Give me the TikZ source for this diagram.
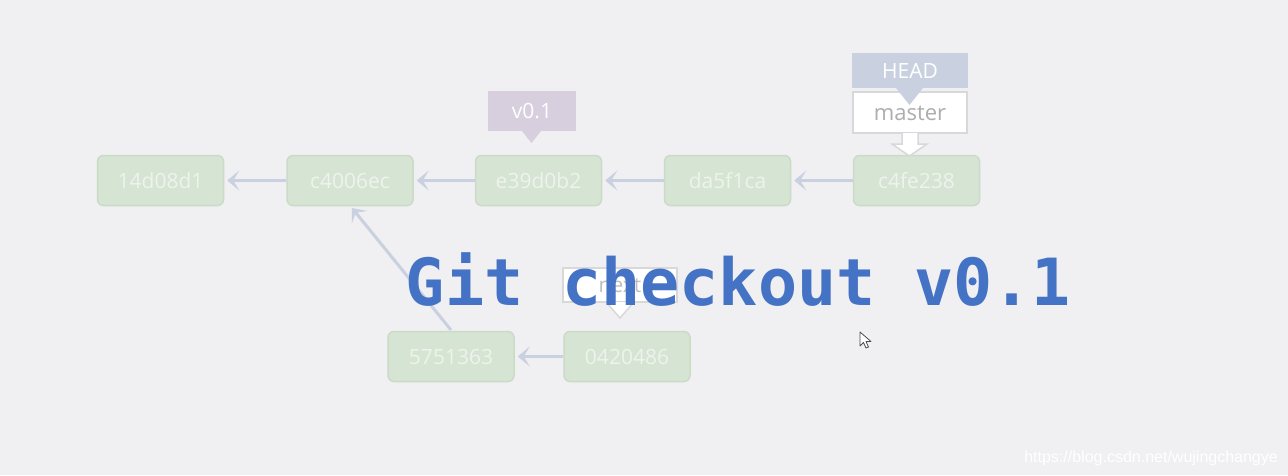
\documentclass[tikz,border=0pt]{standalone}
\usepackage{fontspec}
\setmainfont{Open Sans}
\newfontfamily\monob{DejaVu Sans Mono}
\newfontfamily\wmfont{Liberation Sans}
\usetikzlibrary{arrows.meta}
\definecolor{bgc}{HTML}{F0EFF2}
\definecolor{boxfill}{HTML}{D6E4D3}
\definecolor{boxdraw}{HTML}{CCDBC8}
\definecolor{boxtext}{HTML}{EEF3EE}
\definecolor{arrc}{HTML}{C9D0E0}
\definecolor{tagv}{HTML}{D8CFDE}
\definecolor{taghead}{HTML}{C9D1E0}
\definecolor{greyline}{HTML}{D8D8DA}
\definecolor{greytext}{HTML}{ADADAD}
\definecolor{bigblue}{HTML}{4472C4}
\tikzset{
  commit/.style={draw=boxdraw, line width=1.5pt, fill=boxfill, rounded corners=6pt,
    minimum width=126pt, minimum height=50pt, inner sep=0pt,
    text=boxtext, font=\fontsize{21}{25}\selectfont},
  link/.style={draw=arrc, line width=3pt, -{Stealth[length=12pt,width=20pt,inset=6pt]}, shorten >=3pt}
}
\begin{document}
\begin{tikzpicture}[x=1pt,y=-1pt]
\fill[bgc] (0,0) rectangle (1288,475);
\useasboundingbox (0,0) rectangle (1288,475);

% commits
\node[commit] (c1) at (160.5,180.5) {14d08d1};
\node[commit] (c2) at (350,180.5) {c4006ec};
\node[commit] (c3) at (538.5,180.5) {e39d0b2};
\node[commit] (c4) at (727.5,180.5) {da5f1ca};
\node[commit] (c5) at (916.5,180.5) {c4fe238};
\node[commit] (c6) at (451,356.5) {5751363};
\node[commit] (c7) at (627,356.5) {0420486};

% links
\draw[link] (c2) -- (c1);
\draw[link] (c3) -- (c2);
\draw[link] (c4) -- (c3);
\draw[link] (c5) -- (c4);
\draw[link] (c7) -- (c6);
\coordinate (d1) at (451,330);
\coordinate (d2) at (352,208);
\draw[link, shorten >=0pt] (d1) -- (d2);

% v0.1 tag
\fill[tagv] (488,91) rectangle (576,131);
\fill[tagv] (522,131) -- (541,131) -- (531.5,143) -- cycle;
\node[text=white, font=\fontsize{21}{25}\selectfont] (v01) at (532,111) {v0.1};

% master tag
\draw[greyline, line width=1.5pt, fill=white] (853,92) rectangle (967,133);
\draw[greyline, line width=1.5pt, fill=white, line join=miter]
  (902,133) -- (902,144) -- (892,144) -- (909.5,156) -- (927,144) -- (918,144) -- (918,133);
\node[text=greytext, font=\fontsize{22}{26}\selectfont] (master) at (910,113) {master};

% HEAD tag
\fill[taghead] (852,53) rectangle (968,88);
\fill[taghead] (896,88) -- (923,88) -- (909.5,105) -- cycle;
\node[text=white, font=\fontsize{21}{25}\selectfont] (head) at (910,71) {HEAD};

% next tag
\draw[greyline, line width=1.5pt, fill=white] (563,268) rectangle (677,302);
\draw[greyline, line width=1.5pt, fill=white, line join=miter]
  (606,302) -- (620,318) -- (634,302);
\node[text=greytext!80!white, font=\fontsize{21}{25}\selectfont] (nxt) at (620,286) {next};

% big title
\node[anchor=base, text=bigblue, font=\monob\bfseries\fontsize{65}{70}\selectfont, inner sep=0pt] (title) at (738.5,305) {Git checkout v0.1};

% cursor
\draw[fill=white, draw=black!70, line width=0.8pt, line join=round]
  (860,332) -- (860,346) -- (863.5,342.5) -- (866,348) -- (868.5,347) -- (866,341.5) -- (871,341.5) -- cycle;

% watermark
\node[anchor=base east, text=white, font=\wmfont\fontsize{16}{19}\selectfont, inner sep=0pt] (wm) at (1278,462) {https://blog.csdn.net/wujingchangye};
\end{tikzpicture}
\end{document}
